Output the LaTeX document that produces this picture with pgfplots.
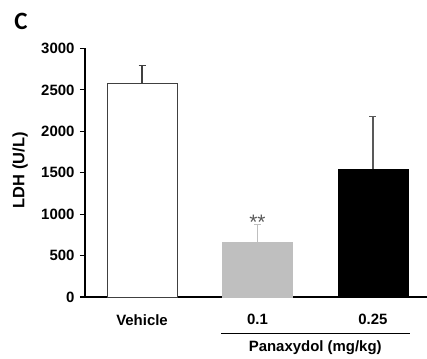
\documentclass[border=0pt]{standalone}
\usepackage{pgfplots}
\pgfplotsset{compat=1.18}
\usepackage{fontspec}
\setmainfont{Liberation Sans}
\newfontfamily\calib{Carlito}
\definecolor{outl}{HTML}{404040}
\definecolor{lgray}{HTML}{BFBFBF}
\definecolor{mgray}{HTML}{595959}
\begin{document}
\begin{tikzpicture}
\useasboundingbox (0,0) rectangle (427bp,359bp);
\node[font=\calib\bfseries\fontsize{25}{28}\selectfont] at (21bp,338bp) {C};
\begin{axis}[
  at={(85bp,62bp)}, anchor=south west,
  scale only axis, width=342bp, height=248.5bp,
  xmin=-0.494, xmax=2.468, ymin=0, ymax=3000,
  axis x line*=bottom, axis y line*=left,
  axis line style={-, line width=1.3pt, black},
  ytick={0,500,...,3000},
  xtick={0,1,2}, xticklabels={Vehicle,0.1,0.25},
  x tick style={draw=none},
  y tick style={line width=1.1pt, black},
  tick align=outside, major tick length=5bp,
  /pgf/number format/assume math mode=true,
  /pgf/number format/1000 sep={},
  ticklabel style={font=\bfseries\fontsize{15}{18}\selectfont},
  xticklabel style={yshift=-9bp},
  yticklabel style={xshift=-2bp},
  ylabel={LDH (U/L)},
  ylabel style={font=\bfseries\fontsize{16.5}{19}\selectfont, at={(axis description cs:-0.19,0.51)}, anchor=center},
  clip=false,
  ybar, bar width=0.606, bar shift=0pt,
]
\addplot[draw=outl, fill=white, line width=1pt,
  error bars/.cd, y dir=plus, y explicit,
  error bar style={line width=1.1pt, outl},
  error mark options={rotate=90, mark size=3.5bp, line width=1.1pt, outl}]
  coordinates {(0,2580) +- (0,220)};
\addplot[draw=lgray, fill=lgray,
  error bars/.cd, y dir=plus, y explicit,
  error bar style={line width=1.1pt, lgray},
  error mark options={rotate=90, mark size=3.5bp, line width=1.1pt, lgray}]
  coordinates {(1,660) +- (0,215)};
\addplot[draw=black, fill=black,
  error bars/.cd, y dir=plus, y explicit,
  error bar style={line width=1.1pt, mgray},
  error mark options={rotate=90, mark size=3.5bp, line width=1.1pt, mgray}]
  coordinates {(2,1545) +- (0,630)};
\node[anchor=base, text=mgray, font=\fontsize{21}{24}\selectfont, inner sep=0pt] at (axis cs:1,814) {**};
\draw[line width=1pt, black] (axis cs:0.684,-435) -- (axis cs:2.32,-435);
\node[font=\bfseries\fontsize{15}{18}\selectfont] at (axis cs:1.5,-617) {Panaxydol (mg/kg)};
\end{axis}
\end{tikzpicture}
\end{document}
